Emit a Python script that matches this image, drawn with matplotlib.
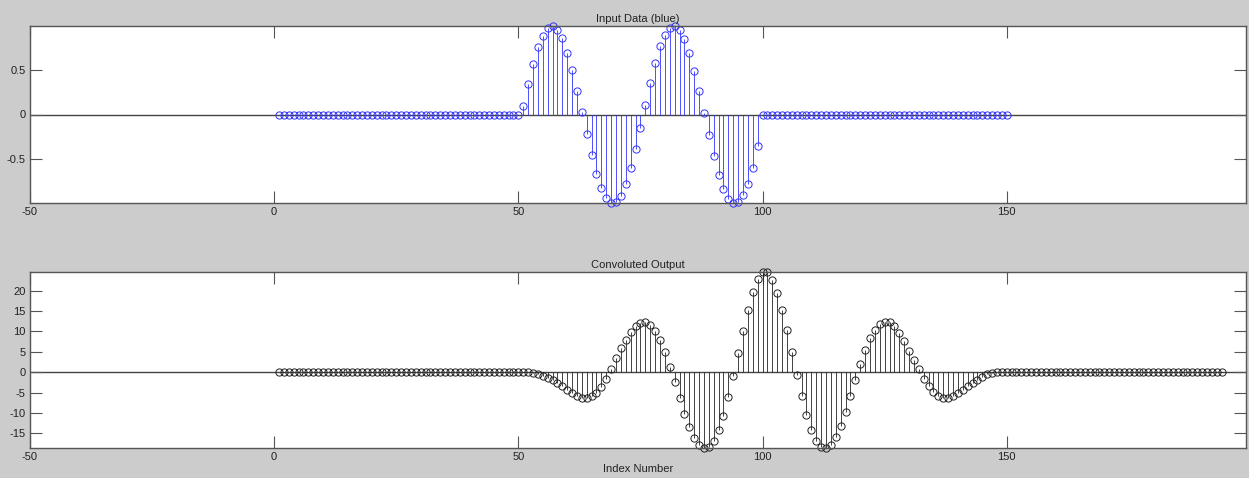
import matplotlib
matplotlib.use('Agg')
import matplotlib.pyplot as plt
from matplotlib.ticker import FormatStrFormatter

plt.rcParams['font.family'] = ['Liberation Sans', 'DejaVu Sans']
plt.rcParams['axes.unicode_minus'] = False

# input signal (top panel), samples 1..150, wave lives on samples 51..99
input_wave = [0.10, 0.34, 0.57, 0.76, 0.89, 0.98, 1.00, 0.96, 0.86, 0.70, 0.50, 0.27, 0.03,
              -0.22, -0.46, -0.67, -0.83, -0.94, -1.00, -0.99, -0.92, -0.79, -0.61, -0.39, -0.15,
              0.11, 0.36, 0.58, 0.77, 0.90, 0.98, 1.00, 0.96, 0.85, 0.69, 0.49, 0.26, 0.02,
              -0.23, -0.47, -0.68, -0.84, -0.95, -1.00, -0.99, -0.91, -0.78, -0.60, -0.36]
input_y = [0.0] * 50 + input_wave + [0.0] * 51
input_x = list(range(1, len(input_y) + 1))

# convolution result (bottom panel), samples 1..194, nonzero on 53..147
output_wave = [-0.1, -0.4, -0.9, -1.4, -2.0, -2.7, -3.5, -4.3, -5.0, -5.8, -6.3, -6.3, -5.8,
               -5.0, -3.6, -1.7, 0.9, 3.4, 5.9, 8.0, 9.9, 11.3, 12.2, 12.3, 11.6, 10.2, 8.0,
               5.0, 1.4, -2.4, -6.4, -10.2, -13.5, -16.2, -17.9, -18.6, -18.3, -16.8, -14.2,
               -10.8, -6.2, -0.9, 4.7, 10.2, 15.2, 19.6, 22.8, 24.5,
               24.6, 22.7, 19.4, 15.3, 10.4, 4.9, -0.7, -5.9, -10.5, -14.2, -16.9, -18.4,
               -18.6, -17.8, -15.9, -13.2, -9.8, -5.9, -1.8, 2.0, 5.4, 8.3, 10.4, 11.8, 12.4,
               12.3, 11.3, 9.6, 7.6, 5.3, 3.0, 0.7, -1.6, -3.4, -4.9, -5.9, -6.4, -6.3, -5.9,
               -5.1, -4.3, -3.5, -2.6, -1.8, -1.1, -0.5, -0.1]
output_y = [0.0] * 52 + output_wave + [0.0] * 47
output_x = list(range(1, len(output_y) + 1))

xticks = [-50, 0, 50, 100, 150]
top_yticks = [-0.5, 0, 0.5]
bottom_yticks = [-15, -10, -5, 0, 5, 10, 15, 20]

W, H = 1249, 478
fig = plt.figure(figsize=(W / 100, H / 100), dpi=100, facecolor='#cccccc')
ax1 = fig.add_axes([30 / W, 1 - 203 / H, 1216 / W, 177 / H])
ax2 = fig.add_axes([30 / W, 1 - 448 / H, 1216 / W, 176 / H])


def draw(ax, x, y, color, title, yticks):
    ml, sl, bl = ax.stem(x, y, linefmt='-', markerfmt='o', basefmt=' ')
    sl.set_color(color)
    sl.set_linewidth(0.6)
    ml.set_markerfacecolor('none')
    ml.set_markeredgecolor(color)
    ml.set_markersize(5.2)
    ml.set_markeredgewidth(0.7)
    ml.set_clip_on(False)
    ax.axhline(0, color='#444444', lw=1.0, zorder=1)
    ax.set_xlim(-50, 199)
    ax.set_ylim(min(y), max(y))
    ax.set_xticks(xticks)
    ax.set_yticks(yticks)
    ax.yaxis.set_major_formatter(FormatStrFormatter('%g'))
    ax.tick_params(direction='in', length=8.5, width=0.8, color='#555555',
                   labelsize=8, labelcolor='#222222', top=True, right=True, pad=3)
    for s in ax.spines.values():
        s.set_color('#555555')
        s.set_linewidth(1.0)
    ax.set_title(title, fontsize=8, pad=3, color='#222222')


draw(ax1, input_x, input_y, '#3333ff', 'Input Data (blue)', top_yticks)
draw(ax2, output_x, output_y, '#222222', 'Convoluted Output', bottom_yticks)
ax2.set_xlabel('Index Number', fontsize=8, labelpad=1, color='#222222')

fig.savefig('out.png', dpi=100, facecolor=fig.get_facecolor())
